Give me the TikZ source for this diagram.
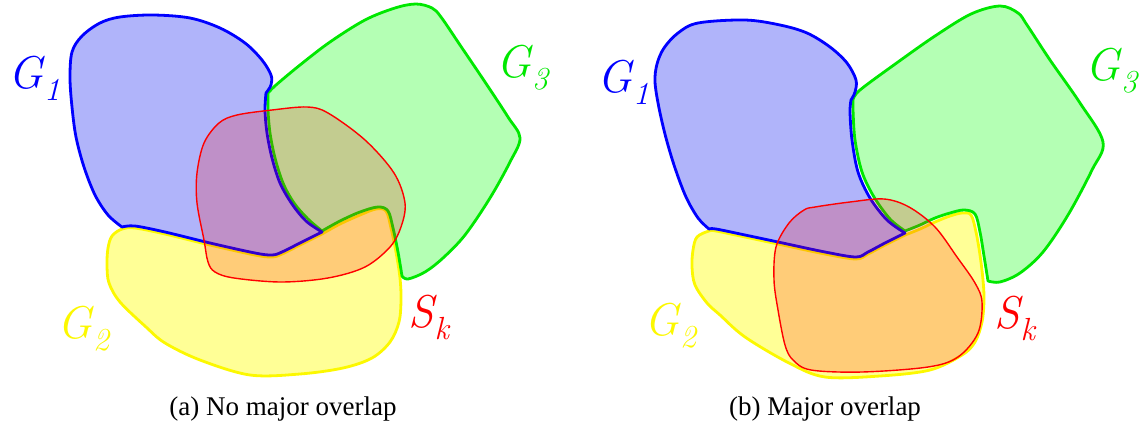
\documentclass[tikz,border=0pt]{standalone}
\usepackage{fontspec}
\newfontfamily\capfont{Liberation Serif}
\newfontfamily\lmit{Latin Modern Roman}
\newcommand\glab[2]{{\lmit\itshape\fontsize{46}{50}\selectfont #1\kern1pt\raisebox{-12pt}{\fontsize{32}{34}\selectfont #2}}}
\definecolor{bfill}{RGB}{176,180,250}
\definecolor{gfill}{RGB}{180,255,180}
\definecolor{yfill}{RGB}{255,255,150}
\definecolor{gline}{RGB}{0,232,0}
\definecolor{yline}{RGB}{252,248,0}
\tikzset{
 gone/.style={draw=blue, fill=bfill, line width=2.8pt, line join=round},
 gtwo/.style={draw=yline, fill=yfill, line width=2.8pt, line join=round},
 gthree/.style={draw=gline, fill=gfill, line width=2.8pt, line join=round},
 sk/.style={draw=red, fill=red, fill opacity=0.2, draw opacity=1, line width=1.4pt},
 lbl/.style={anchor=base west, inner sep=0pt},
 captxt/.style={anchor=base, inner sep=0pt, font=\capfont\fontsize{27}{30}\selectfont},
 sm/.style={smooth, tension=0.55}
}
\begin{document}
\begin{tikzpicture}[x=1pt,y=-1pt]
\useasboundingbox (0,0) rectangle (1139,423);
% ---------- left panel ----------
\filldraw[gtwo] plot[sm] coordinates {(322,234) (340,224) (360,215) (376,209) (386,211) (391,228) (396,252) (400,278) (401,300) (399,322) (390,342) (372,358) (343,368) (300,374) (250,375) (200,360) (165,343) (146,327) (120,302) (109,283) (107,265) (108,248) (112,236) (122,229) (135,228) (165,234) (210,245) (255,255) (272,257) (282,254) (300,245) (322,234)} -- cycle;
\filldraw[gthree] plot[sm] coordinates {(268,93) (276,85) (300,65) (330,42) (365,20) (395,8) (416,4) (432,8) (441,17) (460,45) (485,82) (508,117) (520,138) (510,162) (490,198) (465,235) (443,258) (425,272) (408,279) (402,276)}
 -- plot[sm] coordinates {(402,276) (398,252) (393,228) (388,211) (378,207) (360,212) (340,221) (322,231)}
 -- plot[sm] coordinates {(322,231) (308,219) (294,203) (283,183) (275,158) (270,133) (268,110) (268,93)} -- cycle;
\filldraw[gone] plot[sm] coordinates {(122,227) (108,215) (95,195) (84,167) (76,137) (72,107) (70,78) (72,52) (82,36) (100,23) (120,17) (153,15) (190,18) (220,28) (245,43) (262,60) (271,75) (271,85) (266,93)}
 -- plot[sm] coordinates {(266,93) (265,110) (267,133) (272,158) (280,183) (292,204) (306,221) (322,232)}
 -- plot[sm] coordinates {(322,232) (300,243) (282,252) (272,255) (255,253) (210,243) (165,232) (135,226) (122,227)} -- cycle;
\filldraw[sk] plot[smooth cycle, tension=0.55] coordinates {(237,115) (272,110) (307,107) (328,113) (365,140) (394,173) (405,203) (401,227) (390,247) (365,267) (328,278) (281,282) (234,278) (215,272) (208,262) (204,240) (197,203) (197,173) (204,143) (219,123)};
\node[lbl, text=blue] (g1a) at (8,88) {\glab{G}{1}};
\node[lbl, text=gline] (g3a) at (496,77) {\glab{G}{3}};
\node[lbl, text=yline] (g2a) at (57,338) {\glab{G}{2}};
\node[lbl, text=red] (ska) at (408,327) {\glab{S}{k}};
\node[captxt] (capa) at (283,415) {(a) No major overlap};
% ---------- right panel ----------
\filldraw[gtwo] plot[sm] coordinates {(905,235) (920,229) (935,222) (950,216) (962,213) (971,215) (976,232) (980,255) (983,280) (984,300) (982,322) (975,342) (962,355) (930,370) (880,376) (825,377) (789,363) (745,337) (720,315) (707,303) (695,285) (692,267) (693,250) (697,237) (709,231) (716,231) (745,237) (778,244) (825,254) (856,259) (868,254) (885,245) (905,235)} -- cycle;
\filldraw[gthree] plot[sm] coordinates {(853,100) (860,90) (898,62) (935,36) (971,14) (1000,6) (1018,13) (1027,25) (1050,60) (1080,103) (1103,142) (1092,170) (1068,215) (1043,252) (1020,273) (1000,282) (988,281)}
 -- plot[sm] coordinates {(988,281) (984,256) (980,232) (975,214) (964,210) (950,213) (935,218) (920,225) (905,231)}
 -- plot[sm] coordinates {(905,231) (890,219) (874,197) (862,172) (855,140) (853,110) (853,100)} -- cycle;
\filldraw[gone] plot[sm] coordinates {(709,229) (698,218) (686,197) (675,168) (666,138) (659,108) (655,82) (657,64) (664,48) (678,33) (698,23) (745,20) (780,25) (807,33) (830,47) (847,63) (856,80) (855,92) (851,100)}
 -- plot[sm] coordinates {(851,100) (850,112) (852,140) (858,172) (870,198) (887,220) (905,233)}
 -- plot[sm] coordinates {(905,233) (885,243) (868,252) (856,257) (825,252) (778,242) (745,235) (716,229) (709,229)} -- cycle;
\filldraw[sk] plot[smooth cycle, tension=0.55] coordinates {(815,207) (850,202) (884,199) (909,207) (935,227) (957,257) (975,283) (982,302) (978,333) (958,357) (928,367) (862,372) (811,370) (793,360) (785,345) (778,310) (774,280) (776,247) (789,223) (804,210)};
\node[lbl, text=blue] (g1b) at (597,92) {\glab{G}{1}};
\node[lbl, text=gline] (g3b) at (1085,80) {\glab{G}{3}};
\node[lbl, text=yline] (g2b) at (644,335) {\glab{G}{2}};
\node[lbl, text=red] (skb) at (994,328) {\glab{S}{k}};
\node[captxt] (capb) at (825,415) {(b) Major overlap};
\end{tikzpicture}
\end{document}
